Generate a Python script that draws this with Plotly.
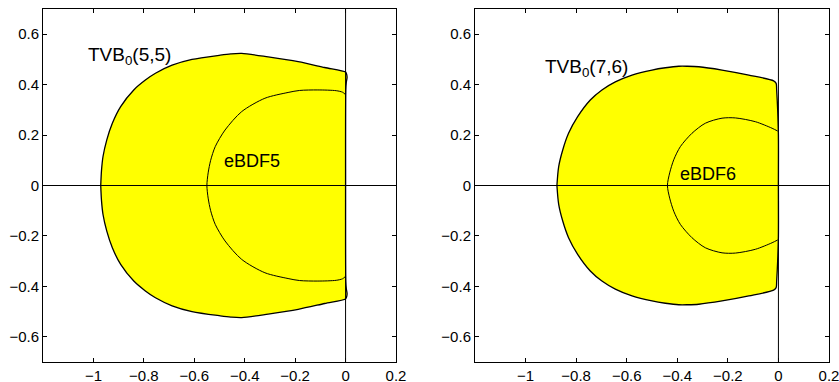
import plotly.graph_objects as go

# ---- data (upper halves; the regions are symmetric about the real axis) ----
tvb55_x = [0.000, 0.001, 0.003, 0.006, 0.003, 0.000, -0.083, -0.188, -0.307, -0.412, -0.455,
           -0.497, -0.609, -0.688, -0.754, -0.794, -0.840, -0.892, -0.925, -0.947, -0.962,
           -0.968, -0.971]
tvb55_y = [0.000, 0.380, 0.410, 0.430, 0.445, 0.450, 0.468, 0.491, 0.510, 0.524, 0.522,
           0.517, 0.500, 0.477, 0.445, 0.418, 0.379, 0.313, 0.247, 0.181, 0.115,
           0.060, 0.000]

ebdf5_x = [-0.002, -0.012, -0.037, -0.110, -0.182, -0.228, -0.320, -0.412, -0.478, -0.517,
           -0.535, -0.545, -0.550]
ebdf5_y = [0.362, 0.370, 0.376, 0.379, 0.377, 0.369, 0.346, 0.293, 0.220, 0.154,
           0.100, 0.050, 0.000]

tvb76_x = [0.000, 0.000, -0.003, -0.007, -0.009, -0.019, -0.117, -0.223, -0.315, -0.360,
           -0.394, -0.447, -0.500, -0.579, -0.645, -0.698, -0.744, -0.794, -0.830, -0.853,
           -0.869, -0.876]
tvb76_y = [0.000, 0.200, 0.300, 0.380, 0.405, 0.415, 0.438, 0.458, 0.471, 0.473,
           0.473, 0.467, 0.458, 0.438, 0.411, 0.379, 0.339, 0.273, 0.207, 0.141,
           0.075, 0.000]

ebdf6_x = [-0.003, -0.025, -0.091, -0.170, -0.223, -0.289, -0.342, -0.388, -0.414, -0.430, -0.439]
ebdf6_y = [0.216, 0.227, 0.253, 0.268, 0.267, 0.247, 0.207, 0.154, 0.102, 0.050, 0.000]

x_ticks = [-1, -0.8, -0.6, -0.4, -0.2, 0, 0.2]
x_ticktext = ["\u22121", "\u22120.8", "\u22120.6", "\u22120.4", "\u22120.2", "0", "0.2"]
y_ticks = [-0.6, -0.4, -0.2, 0, 0.2, 0.4, 0.6]
y_ticktext = ["\u22120.6", "\u22120.4", "\u22120.2", "0", "0.2", "0.4", "0.6"]

labels = [
    # (axis index, text, x, y, size)
    (1, "TVB<sub>0</sub>(5,5)", -1.03, 0.515, 19),
    (1, "eBDF5", -0.491, 0.098, 18),
    (2, "TVB<sub>0</sub>(7,6)", -0.931, 0.465, 19),
    (2, "eBDF6", -0.398, 0.046, 18),
]


def closed_region(xs, ys):
    # upper half, then mirrored lower half back
    X = list(xs) + list(reversed(xs))
    Y = list(ys) + [-v for v in reversed(ys)]
    return X, Y


def open_curve(xs, ys):
    X = list(xs) + list(reversed(xs))[1:]
    Y = list(ys) + [-v for v in reversed(ys)][1:]
    return X, Y


fig = go.Figure()

for idx, (ox, oy, ix, iy) in enumerate([(tvb55_x, tvb55_y, ebdf5_x, ebdf5_y),
                                        (tvb76_x, tvb76_y, ebdf6_x, ebdf6_y)], start=1):
    xa = "x" if idx == 1 else "x2"
    ya = "y" if idx == 1 else "y2"
    X, Y = closed_region(ox, oy)
    fig.add_trace(go.Scatter(x=X, y=Y, mode="lines", fill="toself", fillcolor="#FFFF00",
                             line=dict(color="black", width=1.3, shape="spline", smoothing=0.8),
                             xaxis=xa, yaxis=ya, showlegend=False, hoverinfo="skip"))
    X, Y = open_curve(ix, iy)
    fig.add_trace(go.Scatter(x=X, y=Y, mode="lines",
                             line=dict(color="black", width=1, shape="spline", smoothing=0.8),
                             xaxis=xa, yaxis=ya, showlegend=False, hoverinfo="skip"))

font = dict(family="Liberation Sans, Arial, sans-serif", size=15, color="black")
axis_common = dict(showline=True, linecolor="black", linewidth=1, mirror="ticks",
                   ticks="inside", ticklen=4, tickcolor="black", tickwidth=1,
                   showgrid=False, zeroline=False, tickfont=font, automargin=False,
                   ticklabeloverflow="allow")

fig.update_layout(
    width=839, height=382,
    margin=dict(l=43, r=10, t=9, b=20),
    paper_bgcolor="white", plot_bgcolor="white",
    font=font,
    xaxis=dict(domain=[0, 0.4491], range=[-1.2, 0.2], tickvals=x_ticks, ticktext=x_ticktext,
               anchor="y", **axis_common),
    yaxis=dict(domain=[0, 1], range=[-0.7, 0.7], tickvals=y_ticks, ticktext=y_ticktext,
               anchor="x", **axis_common),
    xaxis2=dict(domain=[0.5496, 1], range=[-1.2, 0.2], tickvals=x_ticks, ticktext=x_ticktext,
                anchor="y2", **axis_common),
    yaxis2=dict(domain=[0, 1], range=[-0.7, 0.7], tickvals=y_ticks, ticktext=y_ticktext,
                anchor="x2", **axis_common),
)

for xa, ya in [("x", "y"), ("x2", "y2")]:
    fig.add_shape(type="line", xref=f"{xa} domain", yref=ya, x0=0, x1=1, y0=0, y1=0,
                  line=dict(color="black", width=1), layer="above")
    fig.add_shape(type="line", xref=xa, yref=f"{ya} domain", x0=0, x1=0, y0=0, y1=1,
                  line=dict(color="black", width=1), layer="above")

for i, text, x, y, s in labels:
    fig.add_annotation(text=text, x=x, y=y, xref="x" if i == 1 else "x2",
                       yref="y" if i == 1 else "y2", xanchor="left", yanchor="middle",
                       showarrow=False, font=dict(family="Liberation Sans, Arial, sans-serif",
                                                  size=s, color="black"))

fig.write_html(
    "out.html",
    config={"displayModeBar": False},
    post_script="document.body.style.margin='0';document.body.style.overflow='hidden';",
)
